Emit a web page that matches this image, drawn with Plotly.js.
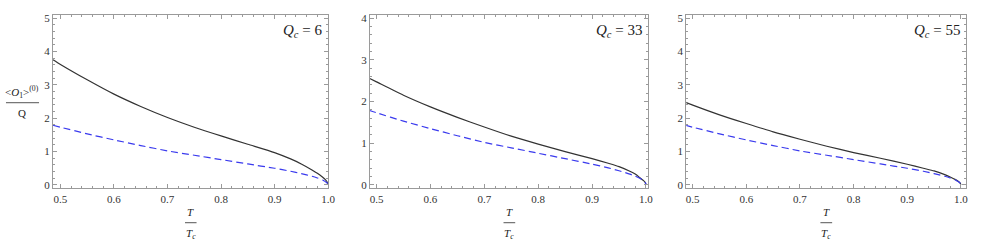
<!DOCTYPE html>
<html>
<head>
<meta charset="utf-8">
<script src="https://cdn.plot.ly/plotly-3.0.1.min.js"></script>
<style>html,body{margin:0;padding:0;background:#fff;}#chart{width:981px;height:251px;}</style>
</head>
<body>
<div id="chart"></div>
<script>
// Temperature grid T/Tc
const tRatio = [0.486, 0.5, 0.55, 0.6, 0.65, 0.7, 0.75, 0.8, 0.85, 0.9, 0.93, 0.95, 0.97, 0.98, 0.99, 0.995, 0.999, 1.0];
// Solid curves for each Qc
const solidQc6  = [3.75, 3.61, 3.15, 2.72, 2.35, 2.02, 1.73, 1.47, 1.22, 0.97, 0.78, 0.63, 0.45, 0.35, 0.23, 0.16, 0.07, 0];
const solidQc33 = [2.56, 2.47, 2.15, 1.87, 1.62, 1.39, 1.17, 0.98, 0.80, 0.63, 0.52, 0.44, 0.33, 0.26, 0.16, 0.11, 0.05, 0];
const solidQc55 = [2.48, 2.39, 2.10, 1.84, 1.59, 1.37, 1.16, 0.97, 0.80, 0.62, 0.50, 0.42, 0.31, 0.24, 0.16, 0.11, 0.05, 0];
// Dashed reference curve (same in every panel)
const dashedRef = [1.79, 1.73, 1.53, 1.35, 1.18, 1.02, 0.89, 0.76, 0.63, 0.50, 0.41, 0.34, 0.26, 0.21, 0.15, 0.10, 0.05, 0];
const panelLabels = ["6", "33", "55"];
const yTickMax = [5, 4, 5];
const xTickLabels = ["0.5", "0.6", "0.7", "0.8", "0.9", "1.0"];

const solids = [solidQc6, solidQc33, solidQc55];
const xDomains = [[0.054, 0.3344], [0.3772, 0.6607], [0.6996, 0.9844]];
const xRanges = [[0.486, 1.0], [0.488, 1.004], [0.488, 1.009]];
const yDom = [0.2498, 0.9414];

const SERIF = '"Liberation Serif", "Times New Roman", "DejaVu Serif", serif';
const frameColor = '#9a9a9a';
const tickFont = {family: SERIF, size: 11, color: '#333'};

const traces = [];
const layout = {
  width: 981, height: 251,
  margin: {l: 0, r: 0, t: 0, b: 0},
  paper_bgcolor: '#fff', plot_bgcolor: '#fff',
  showlegend: false,
  font: {family: SERIF},
  annotations: [], shapes: []
};

for (let i = 0; i < 3; i++) {
  const xa = i === 0 ? 'x' : 'x' + (i + 1);
  const ya = i === 0 ? 'y' : 'y' + (i + 1);
  const xk = i === 0 ? 'xaxis' : 'xaxis' + (i + 1);
  const yk = i === 0 ? 'yaxis' : 'yaxis' + (i + 1);
  traces.push({x: tRatio, y: solids[i], xaxis: xa, yaxis: ya, mode: 'lines',
    line: {color: '#333', width: 1.2, shape: 'spline', smoothing: 0.6}, hoverinfo: 'skip'});
  traces.push({x: tRatio, y: dashedRef, xaxis: xa, yaxis: ya, mode: 'lines',
    line: {color: '#3a3aee', width: 1.2, dash: '7px,4px', shape: 'spline', smoothing: 0.6}, hoverinfo: 'skip'});
  const pad = yTickMax[i] * 0.02;
  layout[xk] = {
    domain: xDomains[i], range: xRanges[i], anchor: ya,
    showgrid: false, zeroline: false, showline: true, mirror: 'ticks',
    linecolor: frameColor, linewidth: 1,
    ticks: 'inside', ticklen: 4, tickcolor: frameColor, tickwidth: 1,
    tickvals: xTickLabels.map(Number), ticktext: xTickLabels,
    tickfont: tickFont,
    minor: {dtick: 0.02, tick0: 0.5, ticklen: 2, tickcolor: frameColor, ticks: 'inside', showgrid: false}
  };
  const yt = [];
  for (let k = 0; k <= yTickMax[i]; k++) yt.push(k);
  layout[yk] = {
    domain: yDom, range: [-pad, yTickMax[i] + pad], anchor: xa,
    showgrid: false, zeroline: false, showline: true, mirror: 'ticks',
    linecolor: frameColor, linewidth: 1,
    ticks: 'inside', ticklen: 4, tickcolor: frameColor, tickwidth: 1,
    tickvals: yt, tickfont: tickFont,
    minor: {dtick: 0.2, tick0: 0, ticklen: 2, tickcolor: frameColor, ticks: 'inside', showgrid: false}
  };
  // Q_c label
  layout.annotations.push({
    xref: xa + ' domain', yref: ya + ' domain', x: 1, y: 1, xanchor: 'right', yanchor: 'top',
    xshift: -4, yshift: -5, showarrow: false,
    text: '<i>Q</i><sub><i>c</i></sub> = ' + panelLabels[i],
    font: {family: SERIF, size: 15, color: '#222'}
  });
  // x-axis title as fraction T / T_c
  layout.annotations.push({
    xref: xa + ' domain', yref: 'paper', x: 0.5, y: 0.1566, xanchor: 'center', yanchor: 'middle',
    showarrow: false,
    text: '<i>T</i>', font: {family: SERIF, size: 11, color: '#222'}
  });
  layout.annotations.push({
    xref: xa + ' domain', yref: 'paper', x: 0.5, y: 0.0665, xanchor: 'center', yanchor: 'middle',
    showarrow: false,
    text: '<i>T</i><sub><i>c</i></sub>', font: {family: SERIF, size: 11, color: '#222'}
  });
  layout.shapes.push({
    type: 'line', xref: xa + ' domain', yref: 'paper', x0: 0.48, x1: 0.522, y0: 0.1127, y1: 0.1127,
    line: {color: '#555', width: 1}
  });
}

// y-axis title (first panel) as fraction <O1>^(0) / Q
layout.annotations.push({
  xref: 'paper', yref: 'paper', x: 0.0225, y: 0.632, xanchor: 'center', yanchor: 'middle',
  showarrow: false,
  text: '&lt;<i>O</i><sub>1</sub>&gt;<sup>(0)</sup>',
  font: {family: SERIF, size: 11, color: '#222'}
});
layout.annotations.push({
  xref: 'paper', yref: 'paper', x: 0.0225, y: 0.5486, xanchor: 'center', yanchor: 'middle',
  showarrow: false,
  text: 'Q', font: {family: SERIF, size: 11, color: '#222'}
});
layout.shapes.push({
  type: 'line', xref: 'paper', yref: 'paper', x0: 0.0061, x1: 0.0398, y0: 0.5908, y1: 0.5908,
  line: {color: '#555', width: 1}
});

Plotly.newPlot('chart', traces, layout, {staticPlot: true, displayModeBar: false});
</script>
</body>
</html>
